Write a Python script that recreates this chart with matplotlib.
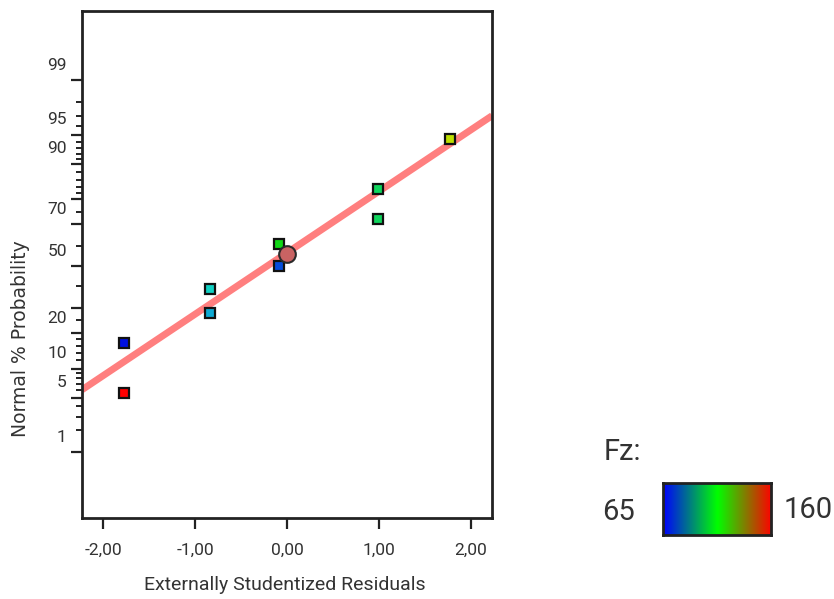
from statistics import NormalDist

import matplotlib
matplotlib.use("Agg")
import matplotlib.pyplot as plt
import numpy as np
from matplotlib.colors import LinearSegmentedColormap, Normalize
from matplotlib.transforms import ScaledTranslation

# residuals and their normal probability (%) positions
residuals = [-1.77, -1.77, -0.84, -0.84, -0.09, -0.09, 0.99, 0.99, 1.77]
probability = [5.6, 16.7, 27.8, 38.9, 50.0, 61.1, 72.2, 83.3, 94.4]
fz = [160, 65, 88, 95, 74, 112, 105, 105, 133]

# reference line and its centre point
line_x = [-2.23, 2.23]
line_p = [6.1, 97.0]
center_x = 0.0
center_p = 56.0

fz_min, fz_max = 65, 160
prob_labels = [1, 5, 10, 20, 50, 70, 90, 95, 99]
prob_major = [1, 5, 10, 20, 30, 50, 70, 80, 90, 95, 99]
prob_minor = [2, 3, 4, 6, 7, 8, 9, 12, 14, 16, 18, 25, 40, 60, 75,
              82, 84, 86, 88, 91, 92, 93, 94, 96, 97, 98]
x_ticks = [-2, -1, 0, 1, 2]

nd = NormalDist()


def z(p):
    return np.array([nd.inv_cdf(v / 100.0) for v in p])


narrow = ["Roboto", "DejaVu Sans"]

point_cmap = LinearSegmentedColormap.from_list(
    "pts", [(0, "#0010e0"), (0.3, "#10d0d0"), (0.5, "#10d810"), (0.75, "#d8e000"), (1, "#ff0000")])
bar_cmap = LinearSegmentedColormap.from_list("bar", ["#0000ff", "#00ff00", "#ff0000"])
norm = Normalize(fz_min, fz_max)

fig = plt.figure(figsize=(8.34, 5.99), dpi=100)
ax = fig.add_axes([0.0983, 0.1352, 0.4917, 0.8464])

ax.plot(line_x, z(line_p), color="#ff7f7f", lw=5, solid_capstyle="butt", zorder=2)
for xv, pv, c in zip(residuals, probability, fz):
    ax.plot(xv, z([pv])[0], marker="s", ms=7.5, mfc=point_cmap(norm(c)),
            mec="#111111", mew=1.6, ls="none", zorder=3)
ax.plot(center_x, z([center_p])[0], marker="o", ms=12, mfc="#c96363",
        mec="#2a2a2a", mew=1.5, ls="none", zorder=4)

ax.set_xlim(-2.23, 2.23)
ax.set_ylim(-3.15, 3.19)

ax.set_xticks(x_ticks)
ax.set_xticklabels([f"{v:.2f}".replace(".", ",") for v in x_ticks], family=narrow, fontsize=12.5, color="#333333")
ax.tick_params(axis="x", length=8, width=1.6, pad=10, color="#222222")

ax.set_yticks(z(prob_major))
ax.set_yticklabels([str(p) if p in prob_labels else "" for p in prob_major],
                   family=narrow, fontsize=12.5, color="#333333")
ax.set_yticks(z(prob_minor), minor=True)
ax.tick_params(axis="y", which="major", length=8, width=1.6, pad=3, color="#222222")
ax.tick_params(axis="y", which="minor", length=4, width=1.4, color="#222222")

# labels sit a little above their ticks
shift = ScaledTranslation(0, 0.165, fig.dpi_scale_trans)
for lab in ax.yaxis.get_majorticklabels():
    lab.set_transform(lab.get_transform() + shift)

for s in ax.spines.values():
    s.set_linewidth(2)
    s.set_color("#222222")

fig.text(0.342, 0.023, "Externally Studentized Residuals", family=narrow, fontsize=14,
         color="#333333", ha="center", va="center")
fig.text(0.024, 0.434, "Normal % Probability", family="DejaVu Sans",
         fontsize=13.5, color="#333333", ha="center", va="center", rotation=90)

# Fz colour legend
cax = fig.add_axes([0.795, 0.1068, 0.1295, 0.0868])
cax.imshow(np.linspace(0, 1, 256)[None, :], aspect="auto", cmap=bar_cmap)
cax.set_xticks([])
cax.set_yticks([])
for s in cax.spines.values():
    s.set_linewidth(2)
    s.set_color("#222222")
fig.text(0.724, 0.245, "Fz:", family=narrow, fontsize=21, color="#333333", ha="left", va="center")
fig.text(0.722, 0.146, str(fz_min), family=narrow, fontsize=21, color="#333333", ha="left", va="center")
fig.text(0.939, 0.149, str(fz_max), family=narrow, fontsize=21, color="#333333", ha="left", va="center")

fig.savefig("out.png", dpi=100)
